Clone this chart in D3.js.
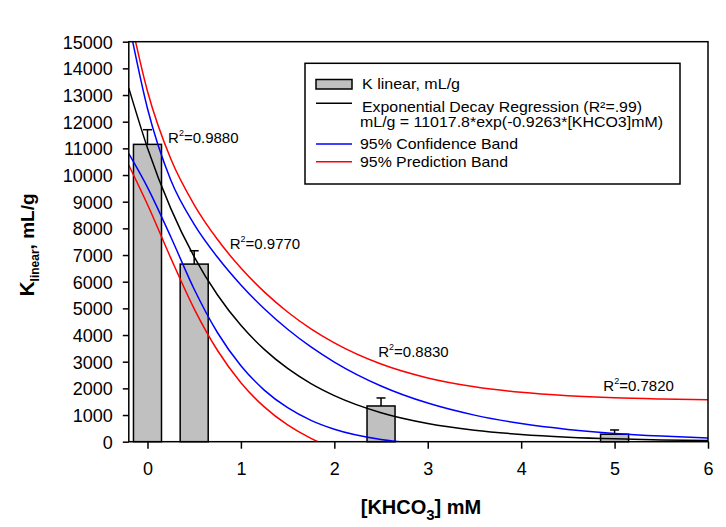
<!DOCTYPE html>
<html><head><meta charset="utf-8">
<script src="https://cdn.jsdelivr.net/npm/d3@7"></script>
<style>
body{margin:0;background:#fff}
svg{display:block}
text{font-family:"Liberation Sans",Arial,sans-serif;fill:#000}
</style>
</head><body>
<svg id="chart" width="726" height="527"></svg>
<script>
// ---------- data ----------
const barX = [0, 0.5, 2.5, 5];
const barValues = [11150, 6660, 1340, 280];
const barErrorTops = [11700, 7160, 1640, 440];
const curveX = [-0.2, 0, 0.25, 0.5, 0.75, 1, 1.25, 1.5, 1.75, 2, 2.5, 3, 3.5, 4, 4.5, 5, 5.5, 6];
const regression = [13260, 11018, 8741, 6934, 5500, 4363, 3461, 2746, 2178, 1728, 1087, 684, 431, 271, 171, 107, 68, 42];
const confUpper = [15719, 12496, 9805, 8151, 6914, 5877, 4986, 4217, 3554, 2987, 2090, 1448, 997, 680, 462, 310, 210, 138];
const confLower = [10801, 9540, 7677, 5717, 4086, 2849, 1936, 1275, 802, 469, 84, -80, -135, -138, -120, -96, -74, -54];
const predUpper = [16153, 13142, 10600, 8885, 7580, 6512, 5618, 4865, 4232, 3706, 2912, 2390, 2058, 1850, 1724, 1645, 1600, 1570];
const predLower = [10367, 8894, 6882, 4983, 3420, 2214, 1304, 627, 124, -250, -738, -1022, -1196, -1308, -1382, -1431, -1464, -1486];
const xTicks = [0, 1, 2, 3, 4, 5, 6];
const yTicks = [0, 1000, 2000, 3000, 4000, 5000, 6000, 7000, 8000, 9000, 10000, 11000, 12000, 13000, 14000, 15000];
const r2Labels = ["0.9880", "0.9770", "0.8830", "0.7820"];
const r2AnchorX = [0.22, 0.88, 2.47, 4.88];
const r2AnchorY = [11200, 7230, 3180, 1900];
const legendLabels = [
  "K linear, mL/g",
  "Exponential Decay Regression (R\u00B2=.99)",
  "mL/g = 11017.8*exp(-0.9263*[KHCO3]mM)",
  "95% Confidence Band",
  "95% Prediction Band"
];

// ---------- layout ----------
const svg = d3.select("#chart");
const L = 128.8, R = 708, T = 41.7, B = 441.7;
const x = d3.scaleLinear().domain([-0.2, 6]).range([L, R]);
const y = d3.scaleLinear().domain([0, 15000]).range([B, T]);

svg.append("defs").append("clipPath").attr("id", "plotClip")
  .append("rect").attr("x", L).attr("y", T).attr("width", R - L).attr("height", B - T);

// bars
const barW = x(0.15) - x(-0.15);
const bars = svg.append("g");
bars.selectAll("rect").data(barX).join("rect")
  .attr("x", d => x(d) - barW / 2)
  .attr("y", (d, i) => y(barValues[i]))
  .attr("width", barW)
  .attr("height", (d, i) => B - y(barValues[i]))
  .attr("fill", "#c0c0c0").attr("stroke", "#000").attr("stroke-width", 1.5);
// error bars
const eb = svg.append("g").attr("stroke", "#000").attr("stroke-width", 1.5);
barX.forEach((d, i) => {
  eb.append("line").attr("x1", x(d)).attr("x2", x(d)).attr("y1", y(barValues[i])).attr("y2", y(barErrorTops[i]));
  eb.append("line").attr("x1", x(d) - 4.5).attr("x2", x(d) + 4.5).attr("y1", y(barErrorTops[i])).attr("y2", y(barErrorTops[i]));
});

// curves
const line = d3.line().x(d => x(d[0])).y(d => y(d[1])).curve(d3.curveMonotoneX);
const curves = svg.append("g").attr("clip-path", "url(#plotClip)").attr("fill", "none").attr("stroke-width", 1.5);
const series = [
  [regression, "#000"], [confUpper, "#0000ff"], [confLower, "#0000ff"],
  [predUpper, "#ff0000"], [predLower, "#ff0000"]
];
series.forEach(([vals, col]) => {
  curves.append("path").datum(curveX.map((v, i) => [v, vals[i]]))
    .attr("d", line).attr("stroke", col);
});

// frame
svg.append("rect").attr("x", L).attr("y", T).attr("width", R - L).attr("height", B - T)
  .attr("fill", "none").attr("stroke", "#000").attr("stroke-width", 1.5);

// axes
const yAxis = svg.append("g").attr("transform", `translate(${L},0)`)
  .call(d3.axisLeft(y).tickValues(yTicks).tickFormat(d3.format("d")).tickSize(6).tickSizeOuter(0).tickPadding(10));
const xAxis = svg.append("g").attr("transform", `translate(0,${B})`)
  .call(d3.axisBottom(x).tickValues(xTicks).tickFormat(d3.format("d")).tickSize(7).tickSizeOuter(0).tickPadding(14));
[yAxis, xAxis].forEach(g => {
  g.select(".domain").remove();
  g.selectAll(".tick line").attr("stroke", "#000").attr("stroke-width", 1.5);
  g.selectAll(".tick text").attr("font-size", 18).attr("font-family", "Liberation Sans, Arial, sans-serif").attr("fill", "#000");
});
yAxis.selectAll(".tick text").attr("dy", "0.36em");

// R² labels
r2Labels.forEach((t, i) => {
  const tx = svg.append("text").attr("x", x(r2AnchorX[i])).attr("y", y(r2AnchorY[i])).attr("font-size", 15);
  tx.append("tspan").text("R");
  tx.append("tspan").text("2").attr("font-size", 9).attr("dy", -7);
  tx.append("tspan").text("=" + t).attr("dy", 7);
});

// axis titles
const xt = svg.append("text").attr("x", 421).attr("y", 514).attr("text-anchor", "middle")
  .attr("font-size", 20).attr("font-weight", "bold");
xt.append("tspan").text("[KHCO");
xt.append("tspan").text("3").attr("dy", 6).attr("font-size", 15);
xt.append("tspan").text("] mM").attr("dy", -6);

const yt = svg.append("text").attr("transform", "translate(34,245) rotate(-90)")
  .attr("text-anchor", "middle").attr("font-weight", "bold").attr("font-size", 19);
yt.append("tspan").text("K").attr("font-size", 21);
yt.append("tspan").text("linear").attr("font-size", 12).attr("dy", 5);
yt.append("tspan").text(", mL/g").attr("dy", -5);

// legend
const lg = svg.append("g");
lg.append("rect").attr("x", 305).attr("y", 63.3).attr("width", 375).attr("height", 120.7)
  .attr("fill", "#fff").attr("stroke", "#000").attr("stroke-width", 1.5);
lg.append("rect").attr("x", 316).attr("y", 79.5).attr("width", 36).attr("height", 9.5)
  .attr("fill", "#c0c0c0").attr("stroke", "#000").attr("stroke-width", 1.5);
const legLines = [[103.3, "#000"], [144, "#0000ff"], [161.7, "#ff0000"]];
legLines.forEach(([ly, c]) => lg.append("line").attr("x1", 316).attr("x2", 352).attr("y1", ly).attr("y2", ly)
  .attr("stroke", c).attr("stroke-width", 1.5));
const legPos = [[362, 89, 98], [362, 111.5, 280], [360, 127, 303], [360, 149, 158], [360, 166.5, 148]];
legendLabels.forEach((t, i) => {
  lg.append("text").attr("x", legPos[i][0]).attr("y", legPos[i][1]).attr("font-size", 15)
    .attr("textLength", legPos[i][2]).attr("lengthAdjust", "spacingAndGlyphs").text(t);
});
</script>
</body></html>
